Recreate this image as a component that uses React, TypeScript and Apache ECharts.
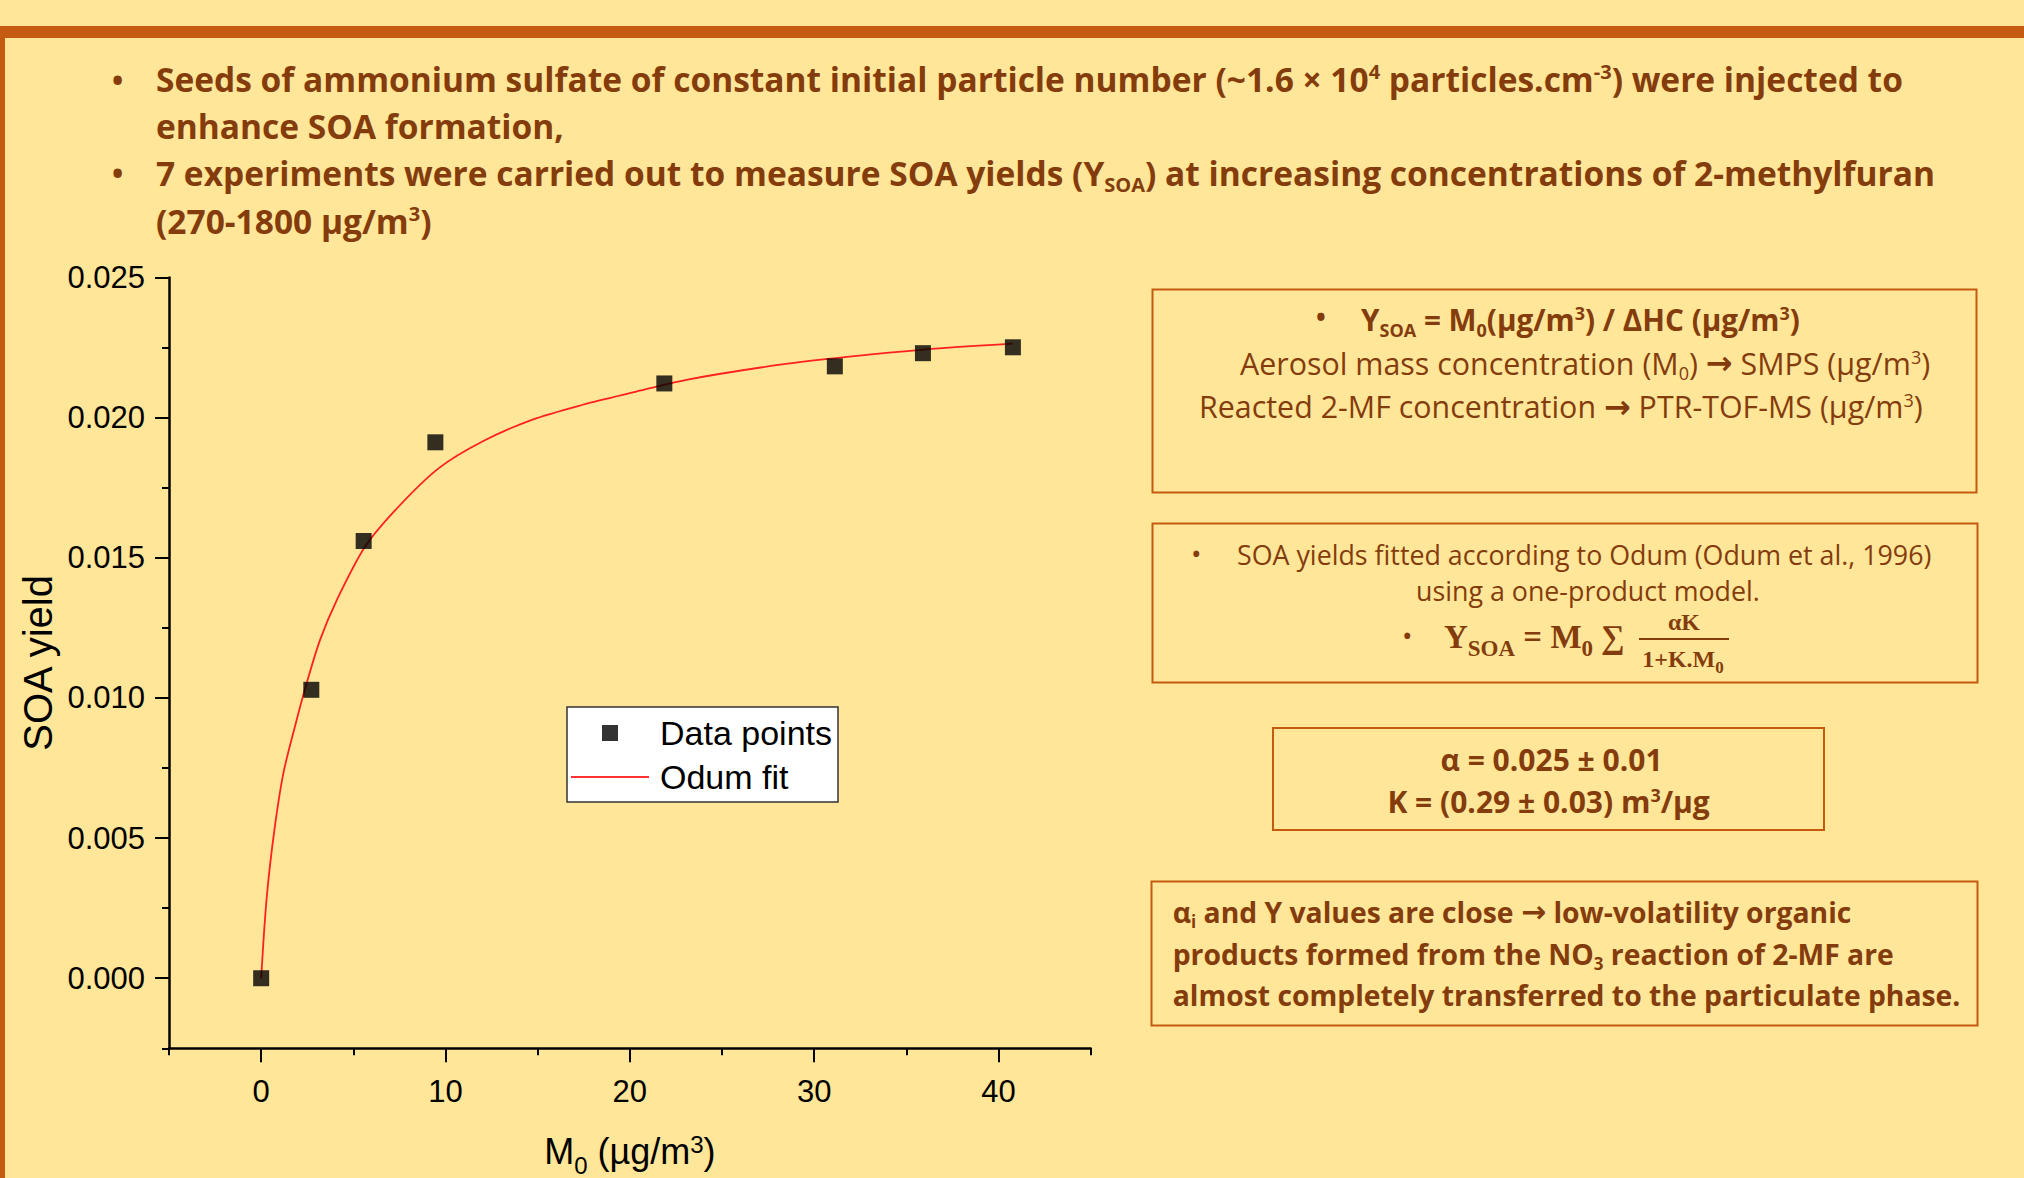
import React, { useEffect, useRef } from 'react';
import * as echarts from 'echarts';

// ---------- data ----------
const xMajorTicks = [0, 10, 20, 30, 40];
const yMajorTicks = [0, 0.005, 0.01, 0.015, 0.02, 0.025];

const dataM0 = [0, 2.72, 5.56, 9.45, 21.87, 31.12, 35.9, 40.78];
const dataYield = [0, 0.01029, 0.0156, 0.01912, 0.02122, 0.02183, 0.0223, 0.02251];

const fitM0 = [0, 0.29, 0.7, 1.2, 1.84, 2.47, 3.2, 4.11, 5.65, 7.46, 9.64, 12.0, 14.72, 17.44, 20.16, 23.07, 28.15, 31.78, 35.95, 40.76];
const fitYield = [0, 0.0028, 0.0052, 0.0073, 0.009, 0.01053, 0.01208, 0.0135, 0.01541, 0.01683, 0.0182, 0.01915, 0.01993, 0.02046, 0.0209, 0.02135, 0.02189, 0.02217, 0.02243, 0.02264];

const headerLines = [
  'Seeds of ammonium sulfate of constant initial particle number (~1.6 × 10{sup|4} particles.cm{sup|-3}) were injected to',
  'enhance SOA formation,',
  '7 experiments were carried out to measure SOA yields (Y{sub|SOA}) at increasing concentrations of 2-methylfuran',
  '(270-1800 µg/m{sup|3})',
];
const box1Lines = [
  'Y{sub|SOA} = M{sub|0}(µg/m{sup|3}) / ΔHC (µg/m{sup|3})',
  'Aerosol mass concentration (M{sub|0}) {arr|→} SMPS (µg/m{sup|3})',
  'Reacted 2-MF concentration {arr|→} PTR-TOF-MS (µg/m{sup|3})',
];
const box2Lines = [
  'SOA yields fitted according to Odum (Odum et al., 1996)',
  'using a one-product model.',
];
const box3Lines = ['α = 0.025 ± 0.01', 'K = (0.29 ± 0.03) m{sup|3}/µg'];
const box4Lines = [
  'α{sub|i} and Y values are close {arr|→} low-volatility organic',
  'products formed from the NO{sub|3} reaction of 2-MF are',
  'almost completely transferred to the particulate phase.',
];

// ---------- styles ----------
const BROWN = '#843C0C';
const ORANGE = '#C55A11';
const BG = '#FFE699';
const SANS = 'Open Sans';
const ARIAL = 'Liberation Sans';
const SERIF = 'Liberation Serif';

function richFor(size: number, weight: string, family: string, fill = BROWN) {
  const L = Math.round(size * 1.2);
  const s = Math.round(size * 0.6);
  return {
    sub: { fontSize: s, fontWeight: weight, fontFamily: family, fill, lineHeight: L, height: Math.round(size * 0.52), verticalAlign: 'bottom' },
    sup: { fontSize: s, fontWeight: weight, fontFamily: family, fill, lineHeight: L, height: Math.round(size * 0.75), verticalAlign: 'top' },
    arr: { fontSize: Math.round(size * 1.05), fontWeight: 'bold', fontFamily: 'DejaVu Sans', fill, lineHeight: L },
  };
}

function T(x: number, y: number, text: string, size: number, weight: string, family: string, align = 'left') {
  return {
    type: 'text',
    x,
    y,
    silent: true,
    style: {
      text,
      fill: BROWN,
      fontSize: size,
      fontWeight: weight,
      fontFamily: family,
      lineHeight: Math.round(size * 1.2),
      align,
      textAlign: align,
      verticalAlign: 'middle',
      textVerticalAlign: 'middle',
      rich: richFor(size, weight, family),
    },
  };
}

function box(x: number, y: number, w: number, h: number) {
  return {
    type: 'rect',
    silent: true,
    shape: { x, y, width: w, height: h },
    style: { fill: 'none', stroke: ORANGE, lineWidth: 2 },
  };
}

const HS = 33.5; // header
const B1B = 29.7; // box 1 bold line
const B1 = 30.4; // box 1 regular lines
const B2 = 26.8;
const B3 = 30;
const B4 = 28.3;

const graphics: any[] = [
  { type: 'rect', silent: true, shape: { x: 0, y: 26, width: 2024, height: 12 }, style: { fill: ORANGE } },
  { type: 'rect', silent: true, shape: { x: 0, y: 26, width: 5, height: 1152 }, style: { fill: ORANGE } },
  // header
  T(112, 79, '•', 30, 'bold', SANS),
  T(156, 79, headerLines[0], HS, 'bold', SANS),
  T(156, 125.5, headerLines[1], HS, 'bold', SANS),
  T(112, 172.5, '•', 30, 'bold', SANS),
  T(156, 172.5, headerLines[2], HS, 'bold', SANS),
  T(156, 220.5, headerLines[3], HS, 'bold', SANS),
  // box 1
  box(1152.5, 289.5, 824, 203),
  T(1316, 317, '•', 26, 'bold', SANS),
  T(1361, 319.5, box1Lines[0], B1B, 'bold', SANS),
  T(1240, 363, box1Lines[1], B1, 'normal', SANS),
  T(1199, 406.5, box1Lines[2], B1, 'normal', SANS),
  // box 2
  box(1152.5, 523.5, 825, 159),
  T(1191, 553, '•', 28, 'normal', SANS),
  T(1237, 554, box2Lines[0], B2, 'normal', SANS),
  T(1416, 590, box2Lines[1], B2, 'normal', SANS),
  T(1402, 635, '•', 28, 'normal', SANS),
  {
    type: 'text', x: 1444, y: 636.7, silent: true,
    style: {
      text: 'Y{s|SOA} = M{s|0} ∑', fill: BROWN, fontSize: 33, fontWeight: 'bold', fontFamily: SERIF,
      lineHeight: 44, align: 'left', textAlign: 'left', verticalAlign: 'middle', textVerticalAlign: 'middle',
      rich: { s: { fontSize: 23, fontWeight: 'bold', fontFamily: SERIF, fill: BROWN, lineHeight: 44, height: 20, verticalAlign: 'bottom' } },
    },
  },
  {
    type: 'text', x: 1684, y: 622, silent: true,
    style: { text: 'αK', fill: BROWN, fontSize: 24, fontWeight: 'bold', fontFamily: SERIF, lineHeight: 28, align: 'center', textAlign: 'center', verticalAlign: 'middle', textVerticalAlign: 'middle' },
  },
  { type: 'line', silent: true, shape: { x1: 1639, y1: 639, x2: 1729, y2: 639 }, style: { stroke: BROWN, lineWidth: 2 } },
  {
    type: 'text', x: 1683, y: 659, silent: true,
    style: {
      text: '1+K.M{s|0}', fill: BROWN, fontSize: 24, fontWeight: 'bold', fontFamily: SERIF,
      lineHeight: 30, align: 'center', textAlign: 'center', verticalAlign: 'middle', textVerticalAlign: 'middle',
      rich: { s: { fontSize: 17, fontWeight: 'bold', fontFamily: SERIF, fill: BROWN, lineHeight: 30, height: 14, verticalAlign: 'bottom' } },
    },
  },
  // box 3
  box(1273, 728, 551, 102),
  T(1551.5, 759, box3Lines[0], B3, 'bold', SANS, 'center'),
  T(1548.6, 801, box3Lines[1], B3, 'bold', SANS, 'center'),
  // box 4
  box(1151.5, 881.5, 826, 144),
  T(1172.7, 911.7, box4Lines[0], B4, 'bold', SANS),
  T(1172.7, 954, box4Lines[1], B4, 'bold', SANS),
  T(1172.7, 995, box4Lines[2], B4, 'bold', SANS),
];

const axisLabelStyle = { fontFamily: ARIAL, fontSize: 31, color: '#000' };

const option: any = {
  animation: false,
  backgroundColor: BG,
  grid: { left: 169, top: 277.5, width: 921.7, height: 770.8, containLabel: false, outerBoundsMode: 'none' },
  legend: {
    orient: 'vertical',
    left: 567,
    top: 707,
    padding: [9, 6, 8, 4],
    itemWidth: 78,
    itemHeight: 16,
    itemGap: 10,
    backgroundColor: '#fff',
    borderColor: '#333',
    borderWidth: 1.5,
    borderRadius: 0,
    symbolKeepAspect: true,
    selectedMode: false,
    textStyle: { fontFamily: ARIAL, fontSize: 34, color: '#000', lineHeight: 34, padding: [0, 0, 0, 6] },
    data: [
      { name: 'Data points', icon: 'path://M0,0H10V10H0Z', itemStyle: { color: '#000', borderWidth: 0 } },
      { name: 'Odum fit', icon: 'path://M0,0H100V2.4H0Z', itemStyle: { color: '#ff3030', borderWidth: 0 } },
    ],
  },
  xAxis: [
    {
      type: 'value',
      min: -5,
      max: 45,
      position: 'bottom',
      splitLine: { show: false },
      axisLine: { show: true, onZero: false, lineStyle: { color: '#000', width: 2.5 } },
      axisTick: { show: true, customValues: xMajorTicks, length: 14, lineStyle: { color: '#000', width: 2 } },
      axisLabel: { show: true, customValues: xMajorTicks, margin: 28, ...axisLabelStyle, formatter: (v: number) => String(v) },
      name: '{m|M}{s|0}{m| (µg/m}{p|3}{m|)}',
      nameLocation: 'middle',
      nameGap: 79.5,
      nameTextStyle: {
        fontFamily: ARIAL, fontSize: 36, color: '#000', lineHeight: 48,
        rich: {
          m: { fontFamily: ARIAL, fontSize: 36, color: '#000', lineHeight: 48 },
          s: { fontFamily: ARIAL, fontSize: 24, color: '#000', lineHeight: 48, height: 20, verticalAlign: 'bottom' },
          p: { fontFamily: ARIAL, fontSize: 24, color: '#000', lineHeight: 48, height: 34, verticalAlign: 'top' },
        },
      },
    },
    {
      type: 'value',
      min: -5,
      max: 45,
      interval: 10,
      position: 'bottom',
      splitLine: { show: false },
      axisLine: { show: false, onZero: false },
      axisTick: { show: true, length: 7, lineStyle: { color: '#000', width: 2 } },
      axisLabel: { show: false },
    },
  ],
  yAxis: [
    {
      type: 'value',
      min: -0.0025,
      max: 0.025,
      position: 'left',
      splitLine: { show: false },
      axisLine: { show: true, onZero: false, lineStyle: { color: '#000', width: 2.5 } },
      axisTick: { show: true, customValues: yMajorTicks, length: 14, lineStyle: { color: '#000', width: 2 } },
      axisLabel: { show: true, customValues: yMajorTicks, margin: 24, ...axisLabelStyle, formatter: (v: number) => v.toFixed(3) },
      name: 'SOA yield',
      nameLocation: 'middle',
      nameGap: 111,
      nameTextStyle: { fontFamily: ARIAL, fontSize: 40, color: '#000' },
    },
    {
      type: 'value',
      min: -0.0025,
      max: 0.025,
      interval: 0.005,
      position: 'left',
      splitLine: { show: false },
      axisLine: { show: false, onZero: false },
      axisTick: { show: true, length: 7, lineStyle: { color: '#000', width: 2 } },
      axisLabel: { show: false },
    },
  ],
  series: [
    {
      name: 'Odum fit',
      type: 'line',
      xAxisIndex: 0,
      yAxisIndex: 0,
      data: fitM0.map((x, i) => [x, fitYield[i]]),
      smooth: 0.3,
      showSymbol: false,
      symbol: 'none',
      lineStyle: { color: '#ff2020', width: 1.8 },
      itemStyle: { color: '#ff2020' },
      z: 2,
      silent: true,
    },
    {
      name: 'Data points',
      type: 'scatter',
      xAxisIndex: 0,
      yAxisIndex: 0,
      data: dataM0.map((x, i) => [x, dataYield[i]]),
      symbol: 'rect',
      symbolSize: 16,
      itemStyle: { color: '#000' },
      z: 3,
      silent: true,
    },
  ],
  graphic: { elements: graphics },
};

export default function App() {
  const ref = useRef<HTMLDivElement>(null);
  useEffect(() => {
    document.body.style.margin = '0';
    document.body.style.overflow = 'hidden';
    const chart = echarts.init(ref.current as HTMLDivElement, null, { renderer: 'svg' });
    chart.setOption(option);
    return () => chart.dispose();
  }, []);
  return <div ref={ref} style={{ width: 2024, height: 1178 }} />;
}
